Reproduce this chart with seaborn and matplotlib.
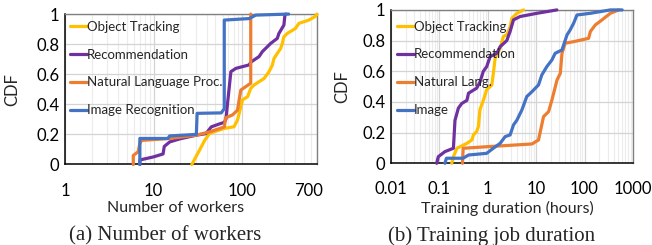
import numpy as np
import pandas as pd
import seaborn as sns
import matplotlib.pyplot as plt
from matplotlib.ticker import FixedLocator, FuncFormatter, NullFormatter
from matplotlib.transforms import ScaledTranslation

# ---- (a) number of workers: CDF points ----
workers_tracking_x = [27, 30, 33, 37.7, 43, 56, 63, 81, 88.6, 96.7, 101, 115, 125, 136, 155,
                      177, 201, 219, 229, 249, 272, 284, 296, 323, 399, 437, 566, 673, 700]
workers_tracking_y = [0, 0.05, 0.095, 0.16, 0.207, 0.23, 0.24, 0.251, 0.296, 0.384, 0.43, 0.45,
                      0.506, 0.528, 0.55, 0.572, 0.617, 0.66, 0.705, 0.738, 0.771, 0.805, 0.849,
                      0.871, 0.904, 0.938, 0.96, 0.985, 1.0]

workers_recomm_x = [7.0, 7.0, 9.9, 12.8, 13.2, 15.2, 19.7, 30.4, 39, 44.8, 55.6, 62.8, 65.5,
                    74.6, 85, 120, 125, 155, 169, 210, 249, 260, 296, 304, 310]
workers_recomm_y = [0, 0.03, 0.05, 0.07, 0.12, 0.15, 0.17, 0.195, 0.205, 0.25, 0.27, 0.28, 0.3,
                    0.617, 0.639, 0.662, 0.68, 0.717, 0.75, 0.805, 0.838, 0.871, 0.927, 0.993, 1.0]

workers_nlp_x = [5.9, 5.9, 6.7, 7.0, 7.3, 15.2, 30.4, 43, 63, 65, 78, 88.6, 92.5, 96.7, 110, 125, 125]
workers_nlp_y = [0, 0.06, 0.085, 0.14, 0.16, 0.173, 0.195, 0.217, 0.25, 0.31, 0.33, 0.361, 0.43,
                 0.495, 0.518, 0.54, 1.0]

workers_image_x = [7.0, 7.0, 14.5, 15.2, 30.4, 31, 58, 62.8, 62.8, 120, 142.5, 335]
workers_image_y = [0, 0.173, 0.173, 0.19, 0.2, 0.34, 0.343, 0.37, 0.96, 0.97, 0.993, 1.0]

# ---- (b) training duration in hours ----
dur_tracking_x = [0.18, 0.195, 0.23, 0.37, 0.47, 0.505, 0.59, 0.64, 0.69, 0.81, 0.95, 1.21,
                  1.31, 1.42, 1.8, 2.1, 2.5, 2.9, 3.14, 4.0, 5.5]
dur_tracking_y = [0, 0.043, 0.098, 0.13, 0.152, 0.185, 0.207, 0.24, 0.35, 0.41, 0.48, 0.51,
                  0.59, 0.685, 0.75, 0.826, 0.84, 0.89, 0.945, 0.978, 1.0]

dur_recomm_x = [0.088, 0.095, 0.13, 0.195, 0.21, 0.247, 0.29, 0.37, 0.40, 0.59, 0.69, 0.81,
                0.95, 1.12, 1.54, 1.8, 2.47, 2.9, 3.4, 4.66, 10.4, 26.8]
dur_recomm_y = [0, 0.043, 0.076, 0.098, 0.28, 0.36, 0.39, 0.41, 0.457, 0.49, 0.53, 0.6, 0.63,
                0.696, 0.717, 0.76, 0.8, 0.86, 0.935, 0.957, 0.978, 1.0]

dur_nlp_x = [0.30, 0.31, 0.95, 8.2, 11.2, 14.2, 18.1, 21.2, 27, 31.6, 34.2, 39.9, 59.5,
             121.6, 132, 167, 230, 342, 508]
dur_nlp_y = [0, 0.098, 0.108, 0.126, 0.152, 0.304, 0.337, 0.413, 0.543, 0.587, 0.717, 0.783,
             0.793, 0.815, 0.859, 0.902, 0.935, 0.978, 1.0]

dur_image_x = [0.13, 0.14, 0.31, 0.40, 0.95, 1.3, 1.8, 2.29, 2.9, 3.4, 3.98, 5.08, 6.4, 8.2,
               11.2, 13.1, 16.6, 21.2, 24.7, 34.2, 43.5, 50.6, 59.5, 69.8, 132, 212, 342, 600]
dur_image_y = [0, 0.033, 0.033, 0.054, 0.065, 0.098, 0.13, 0.174, 0.185, 0.25, 0.28, 0.348,
               0.435, 0.467, 0.511, 0.576, 0.63, 0.674, 0.717, 0.739, 0.837, 0.87, 0.913,
               0.967, 0.978, 0.989, 1.0, 1.0]

labels_a = ["Object Tracking", "Recommendation", "Natural Language Proc.", "Image Recognition"]
labels_b = ["Object Tracking", "Recommendation", "Natural Lang.", "Image"]
colors = ["#FFC000", "#7030A0", "#ED7D31", "#4472C4"]

series_a = [(workers_tracking_x, workers_tracking_y), (workers_recomm_x, workers_recomm_y),
            (workers_nlp_x, workers_nlp_y), (workers_image_x, workers_image_y)]
series_b = [(dur_tracking_x, dur_tracking_y), (dur_recomm_x, dur_recomm_y),
            (dur_nlp_x, dur_nlp_y), (dur_image_x, dur_image_y)]

sns.set_style("white")
plt.rcParams["font.family"] = ["Lato", "DejaVu Sans"]

fig = plt.figure(figsize=(6.52, 2.45), dpi=100)
ax_a = fig.add_axes([0.0997, 0.3286, 0.3865, 0.614])
ax_b = fig.add_axes([0.5997, 0.3335, 0.371, 0.626])


def draw_panel(ax, series, labels, xlim, majors, ticklabels, xlabel, xlabel_pos,
               ylabel_x, leg_anchor):
    for (xs, ys), lab, col in zip(series, labels, colors):
        df = pd.DataFrame({"x": xs, "y": ys})
        sns.lineplot(data=df, x="x", y="y", ax=ax, color=col, linewidth=2.3,
                     sort=False, estimator=None, label=lab, clip_on=False, zorder=3)
    ax.set_xscale("log")
    ax.set_xlim(*xlim)
    ax.set_ylim(0, 1)
    ax.xaxis.set_major_locator(FixedLocator(majors))
    ax.xaxis.set_major_formatter(FuncFormatter(lambda v, p: ticklabels.get(v, "")))
    ax.xaxis.set_minor_locator(FixedLocator(
        [m * 10.0 ** e for e in range(-3, 4) for m in range(2, 10)]))
    ax.xaxis.set_minor_formatter(NullFormatter())
    ax.set_yticks([0, 0.2, 0.4, 0.6, 0.8, 1.0])
    ax.yaxis.set_major_formatter(FuncFormatter(lambda v, p: "{:g}".format(round(v, 1))))
    ax.grid(True, which="major", axis="both", color="#d4d4d4", linewidth=0.9, zorder=0)
    ax.grid(True, which="minor", axis="x", color="#ececec", linewidth=0.8, zorder=0)
    ax.tick_params(axis="both", which="major", direction="in", length=3, width=0.8,
                   labelsize=12, colors="black")
    ax.tick_params(axis="x", which="major", pad=13)
    ax.tick_params(axis="y", which="major", pad=4)
    ax.tick_params(axis="x", which="minor", length=0)
    for side in ["left", "bottom"]:
        ax.spines[side].set_color("black")
        ax.spines[side].set_linewidth(1.1)
    for side in ["top", "right"]:
        ax.spines[side].set_color("#808080")
        ax.spines[side].set_linewidth(1.0)
    ax.set_xlabel(xlabel, fontsize=11.5)
    ax.xaxis.set_label_coords(xlabel_pos, -0.245)
    ax.set_ylabel("CDF", fontsize=12)
    ax.yaxis.set_label_coords(ylabel_x, 0.5)
    ax.legend(loc="upper left", bbox_to_anchor=leg_anchor, frameon=False, fontsize=9.5,
              handlelength=1.25, handletextpad=0.0, labelspacing=1.2, borderpad=0,
              borderaxespad=0)


draw_panel(ax_a, series_a, labels_a, (1, 700), [1, 10, 100, 700],
           {1: "1", 10: "10", 100: "100", 700: "700"}, "Number of workers", 0.44,
           -0.178, (0.02, 0.955))
draw_panel(ax_b, series_b, labels_b, (0.01, 1000), [0.01, 0.1, 1, 10, 100, 1000],
           {0.01: "0.01", 0.1: "0.1", 1: "1", 10: "10", 100: "100", 1000: "1000"},
           "Training duration (hours)", 0.48, -0.17, (0.025, 0.93))

# the "700" label sits a little left of its tick in the original
fig.canvas.draw()
last = ax_a.get_xticklabels()[-1]
last.set_transform(last.get_transform() + ScaledTranslation(-8 / 100, 0, fig.dpi_scale_trans))

fig.text(165 / 652, 1 - 236 / 245, "(a) Number of workers", ha="center", va="center",
         fontsize=15, family=["Liberation Serif", "DejaVu Serif"])
fig.text(492 / 652, 1 - 236 / 245, "(b) Training job duration", ha="center", va="center",
         fontsize=15, family=["Liberation Serif", "DejaVu Serif"])

fig.savefig("out.png", dpi=100)
